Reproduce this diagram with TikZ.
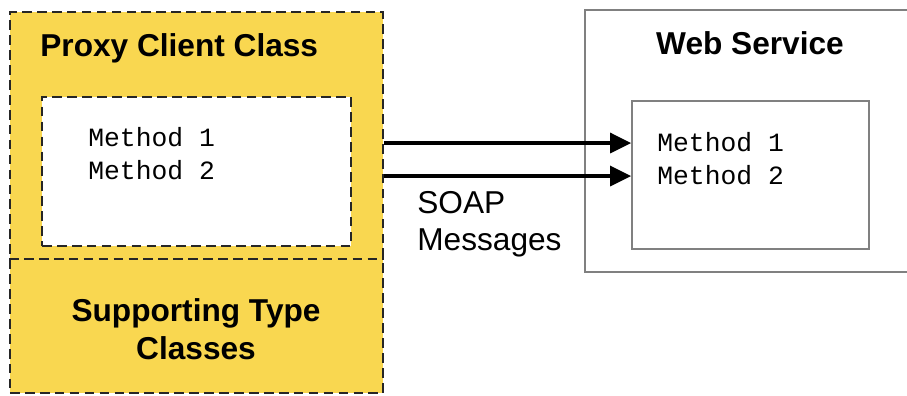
\documentclass[tikz,border=0pt]{standalone}
\usepackage{fontspec}
\setmainfont{Liberation Sans}
\setmonofont{Liberation Mono}
\usetikzlibrary{arrows.meta}
\definecolor{proxyyellow}{RGB}{249,215,80}
\definecolor{wsgray}{RGB}{128,128,128}
\tikzset{
  dashbox/.style={draw=black!85, line width=1.1pt, dash pattern=on 5.5pt off 3pt, rectangle, inner sep=0pt},
  wsbox/.style={draw=wsgray, line width=1pt, rectangle, inner sep=0pt},
  title/.style={font=\fontsize{18}{21.6}\selectfont\bfseries, align=center, inner sep=0pt},
  methods/.style={font=\ttfamily\fontsize{15}{18.8}\selectfont, align=left, inner sep=0pt, anchor=west},
  msg/.style={-{Triangle[length=0.42cm,width=0.4cm]}, line width=1.8pt}
}
\begin{document}
\begin{tikzpicture}
\useasboundingbox (0,0) rectangle (18.14,-7.9);

% Proxy Client
\node[dashbox, fill=proxyyellow, minimum width=7.46cm, minimum height=7.62cm] (proxy) at (3.93,-4.05) {};
\draw[dashbox] (proxy.west |- 0,-5.18) -- (proxy.east |- 0,-5.18);
\node[dashbox, fill=white, minimum width=6.18cm, minimum height=2.98cm] (pinner) at (3.93,-3.43) {};
\node[title, anchor=west] (ptitle) at (0.8,-0.96) {Proxy Client Class};
\node[methods] (pm) at (1.76,-3.07) {Method 1\\Method 2};
\node[title] (types) at (3.92,-6.58) {Supporting Type\\Classes};

% Web Service
\node[wsbox, minimum width=6.5cm, minimum height=5.24cm] (ws) at (14.95,-2.82) {};
\node[wsbox, fill=white, minimum width=4.74cm, minimum height=2.96cm] (wsinner) at (15.01,-3.5) {};
\node[title] (wstitle) at (15.0,-0.86) {Web Service};
\node[methods] (wsm) at (13.14,-3.17) {Method 1\\Method 2};

% Messages
\coordinate (m1) at (10,-2.86);
\coordinate (m2) at (10,-3.52);
\draw[msg] (proxy.east |- m1) -- (wsinner.west |- m1);
\draw[msg] (proxy.east |- m2) -- (wsinner.west |- m2);
\node[font=\fontsize{18}{21.2}\selectfont, align=left, anchor=west, inner sep=0pt] (soap) at (8.34,-4.49) {SOAP\\Messages};
\end{tikzpicture}
\end{document}
